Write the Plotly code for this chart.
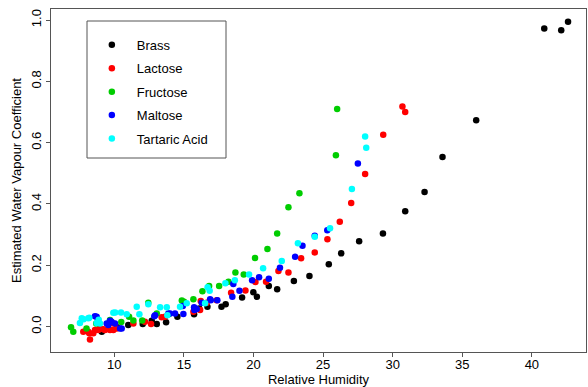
import plotly.graph_objects as go

# ---- data ----
brass_x = [42.60, 42.11, 40.89, 36.0, 33.58, 32.29, 30.9, 29.3, 27.59, 26.3, 25.41, 24.02, 22.9,
           21.7, 21.1, 20.24, 19.99, 19.18, 18.0, 17.7, 16.69, 16.1, 15.73, 14.53, 13.72, 13.05,
           12.69, 12.04, 11.0, 10.2, 9.2, 9.1]
brass_y = [0.994, 0.967, 0.972, 0.673, 0.553, 0.439, 0.376, 0.304, 0.278, 0.239, 0.203, 0.165, 0.149,
           0.122, 0.132, 0.097, 0.112, 0.095, 0.073, 0.065, 0.065, 0.059, 0.040, 0.032, 0.014, 0.008,
           0.019, 0.008, 0.005, -0.002, -0.011, -0.017]

lactose_x = [30.7, 30.9, 29.32, 28.02, 27.02, 26.2, 25.31, 24.4, 23.42, 22.51, 21.79, 20.9, 20.14,
             19.42, 18.39, 17.36, 16.64, 16.21, 16.16, 15.68, 13.64, 13.4, 12.64, 12.2, 11.37, 10.17,
             9.93, 9.93, 9.69, 9.33, 9.21, 8.97, 8.85, 8.61, 8.49, 8.25, 8.2, 8.13, 7.77]
lactose_y = [0.718, 0.700, 0.626, 0.498, 0.403, 0.342, 0.285, 0.242, 0.223, 0.176, 0.181, 0.146, 0.145,
             0.118, 0.110, 0.086, 0.078, 0.083, 0.054, 0.048, 0.032, 0.030, 0.008, 0.016, 0.010, -0.006,
             0.010, -0.011, -0.011, -0.011, -0.009, -0.006, -0.011, -0.011, -0.022, -0.042, -0.022,
             -0.017, -0.017]

fructose_x = [26.01, 25.92, 23.3, 22.51, 21.7, 21.0, 20.11, 19.3, 18.7, 18.2, 17.53, 16.81, 16.33,
              15.68, 15.01, 14.85, 13.9, 13.05, 12.44, 12.0, 11.37, 11.06, 10.5, 9.69, 8.7, 8.0,
              7.05, 6.89]
fructose_y = [0.710, 0.559, 0.435, 0.389, 0.304, 0.253, 0.224, 0.170, 0.176, 0.146, 0.132, 0.132, 0.115,
              0.089, 0.081, 0.085, 0.040, 0.043, 0.078, 0.020, 0.020, 0.032, 0.015, 0.021, 0.010, -0.006,
              -0.017, -0.002]

maltose_x = [27.5, 25.3, 24.4, 23.52, 22.99, 21.9, 21.1, 20.4, 19.9, 18.99, 18.55, 18.48, 17.4,
             16.93, 16.88, 16.28, 15.92, 15.75, 15.73, 14.96, 14.92, 14.36, 14.0, 13.88, 12.93, 12.87,
             10.53, 10.41, 10.05, 9.8, 9.69, 9.57, 9.45, 8.73, 8.61]
maltose_y = [0.532, 0.314, 0.296, 0.264, 0.228, 0.192, 0.156, 0.161, 0.151, 0.117, 0.139, 0.097, 0.086,
             0.086, 0.089, 0.078, 0.057, 0.054, 0.063, 0.041, 0.067, 0.043, 0.043, 0.043, 0.037, 0.034,
             -0.006, -0.006, 0.010, 0.016, 0.019, 0.005, 0.010, 0.032, 0.034]

tartaric_x = [28.02, 28.1, 27.07, 25.5, 24.4, 23.19, 22.03, 20.69, 19.68, 18.66, 17.98, 16.85, 16.7,
              16.52, 15.2, 14.72, 13.81, 13.77, 13.29, 12.44, 11.8, 11.61, 10.89, 10.48, 10.06, 9.93,
              8.97, 8.88, 8.73, 8.2, 8.13, 7.79, 7.66, 7.53]
tartaric_y = [0.620, 0.583, 0.449, 0.321, 0.293, 0.272, 0.214, 0.190, 0.170, 0.151, 0.141, 0.117, 0.128,
              0.076, 0.076, 0.065, 0.037, 0.063, 0.063, 0.073, 0.040, 0.065, 0.040, 0.046, 0.046, 0.045,
              0.010, 0.022, 0.012, 0.029, 0.027, 0.024, 0.027, 0.012]

series = [
    ("Brass", brass_x, brass_y, "#000000"),
    ("Lactose", lactose_x, lactose_y, "#FF0000"),
    ("Fructose", fructose_x, fructose_y, "#00CD00"),
    ("Maltose", maltose_x, maltose_y, "#0000FF"),
    ("Tartaric Acid", tartaric_x, tartaric_y, "#00FFFF"),
]

x_ticks = [10, 15, 20, 25, 30, 35, 40]
y_ticks = [0.0, 0.2, 0.4, 0.6, 0.8, 1.0]
y_ticktext = ["0.0", "0.2", "0.4", "0.6", "0.8", "1.0"]

FONT = "Liberation Sans, Arial, sans-serif"

fig = go.Figure()
for i, (name, xs, ys, col) in enumerate(series):
    fig.add_trace(go.Scatter(
        x=xs, y=ys, mode="markers", name=name, legendgroup=f"g{i}",
        marker=dict(color=col, size=6.5, line=dict(width=0)),
    ))

axcol = "#555555"
fig.update_layout(
    width=588, height=387,
    margin=dict(l=51, r=2, t=9, b=35, autoexpand=False),
    paper_bgcolor="white", plot_bgcolor="white",
    font=dict(family=FONT, size=13, color="black"),
    showlegend=True,
    legend=dict(
        x=0.067, y=0.939, xanchor="left", yanchor="top",
        bgcolor="rgba(0,0,0,0)", borderwidth=0,
        font=dict(family=FONT, size=13, color="black"),
        tracegroupgap=3.5, itemwidth=40,
    ),
    xaxis=dict(
        range=[5.45, 43.89], tickvals=x_ticks, ticks="outside", ticklen=4,
        tickcolor=axcol, showline=True, linecolor=axcol, linewidth=1, mirror=True,
        showgrid=False, zeroline=False, automargin=False, ticklabelstandoff=-4,
        title=dict(text="Relative Humidity", font=dict(size=13), standoff=6),
        tickfont=dict(size=13),
    ),
    yaxis=dict(
        range=[-0.083, 1.036], tickvals=y_ticks, ticktext=y_ticktext, tickangle=-90,
        ticks="outside", ticklen=4, tickcolor=axcol,
        showline=True, linecolor=axcol, linewidth=1, mirror=True,
        showgrid=False, zeroline=False, automargin=False,
        title=dict(text="Estimated Water Vapour Coefficient", font=dict(size=13), standoff=4),
        tickfont=dict(size=13),
    ),
    shapes=[dict(type="rect", xref="paper", yref="paper",
                 x0=(87 - 51) / 535, x1=(226 - 51) / 535,
                 y0=(352 - 158) / 343, y1=(352 - 21) / 343,
                 line=dict(color=axcol, width=1), fillcolor="rgba(0,0,0,0)")],
)

fig.write_html("out.html")
